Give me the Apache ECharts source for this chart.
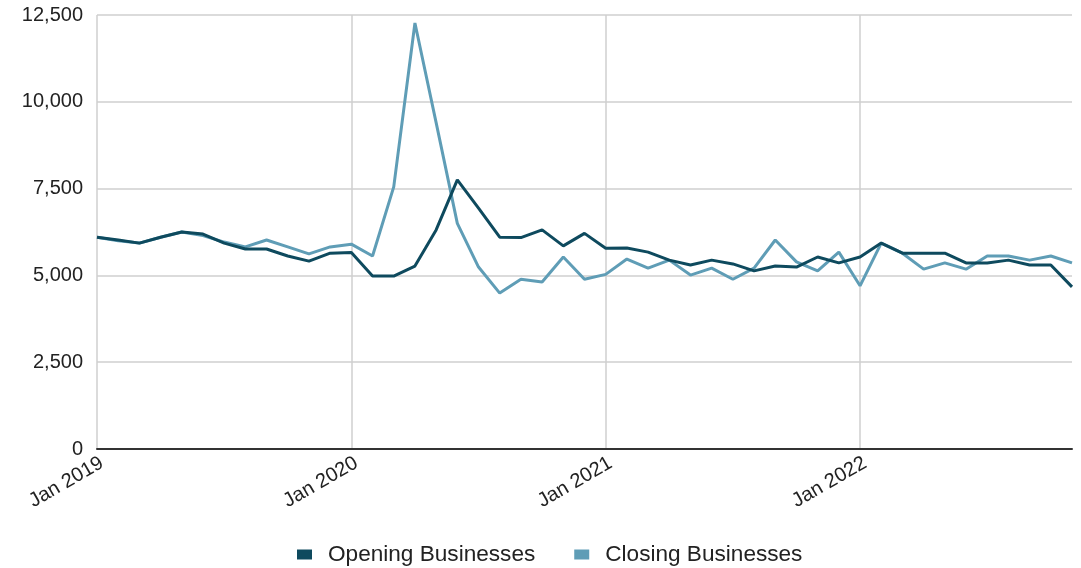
<!DOCTYPE html>
<html>
<head>
<meta charset="utf-8">
<title>Opening and Closing Businesses</title>
<script src="https://cdn.jsdelivr.net/npm/echarts@6/dist/echarts.min.js"></script>
<style>
  html, body { margin: 0; padding: 0; background: #ffffff; }
  #chart { width: 1081px; height: 568px; }
</style>
</head>
<body>
<div id="chart"></div>
<script>
// Monthly series, Jan 2019 through Nov 2022
const monthNames = ['Jan', 'Feb', 'Mar', 'Apr', 'May', 'Jun', 'Jul', 'Aug', 'Sep', 'Oct', 'Nov', 'Dec'];
const years = [2019, 2020, 2021, 2022];
const months = [];
years.forEach(function (y) {
  monthNames.forEach(function (m) { months.push(m + ' ' + y); });
});
months.length = 47;

const openingBusinesses = [
  6100, 6020, 5930, 6100, 6250, 6190, 5930, 5760, 5760, 5560, 5410, 5640,
  5660, 4980, 4980, 5270, 6310, 7750, 6940, 6100, 6090, 6310, 5850, 6210,
  5780, 5790, 5670, 5440, 5300, 5440, 5330, 5130, 5270, 5240, 5530, 5360,
  5530, 5930, 5640, 5640, 5640, 5360, 5360, 5440, 5300, 5300, 4670
];

const closingBusinesses = [
  6100, 6000, 5930, 6100, 6250, 6150, 5960, 5820, 6020, 5820, 5620, 5820,
  5900, 5560, 7550, 12270, 9400, 6500, 5240, 4490, 4890, 4810, 5530, 4890,
  5030, 5470, 5210, 5440, 5010, 5210, 4890, 5210, 6020, 5390, 5130, 5670,
  4700, 5930, 5640, 5180, 5360, 5180, 5560, 5560, 5440, 5560, 5360
];

const yTicks = { min: 0, max: 12500, step: 2500 };

const chart = echarts.init(document.getElementById('chart'), null, { renderer: 'canvas' });
const fontFamily = '"Liberation Sans", Arial, sans-serif';
const yearStart = function (idx) { return idx % 12 === 0; };

chart.setOption({
  animation: false,
  backgroundColor: '#ffffff',
  textStyle: { fontFamily: fontFamily },
  grid: { left: 97, right: 9, top: 15, bottom: 119, containLabel: false },
  legend: {
    data: ['Opening Businesses', 'Closing Businesses'],
    top: 538,
    left: 292,
    icon: 'rect',
    itemWidth: 15,
    itemHeight: 10,
    itemGap: 39,
    textStyle: { fontSize: 22.6, color: '#222', fontFamily: fontFamily, padding: [0, 0, 0, 11] }
  },
  xAxis: {
    type: 'category',
    data: months,
    boundaryGap: false,
    axisLine: { show: true, lineStyle: { color: '#333', width: 2 } },
    axisTick: { show: false },
    axisLabel: {
      interval: yearStart,
      rotate: 30,
      fontSize: 20,
      color: '#222',
      margin: 4,
      verticalAlign: 'top',
      fontFamily: fontFamily
    },
    splitLine: { show: true, interval: yearStart, lineStyle: { color: '#cfcfcf', width: 1.5 } }
  },
  yAxis: {
    type: 'value',
    min: yTicks.min,
    max: yTicks.max,
    interval: yTicks.step,
    axisLine: { show: false },
    axisTick: { show: false },
    axisLabel: {
      fontSize: 20,
      color: '#222',
      margin: 14,
      fontFamily: fontFamily,
      formatter: function (v) { return v.toLocaleString('en-US'); }
    },
    splitLine: { show: true, lineStyle: { color: '#cfcfcf', width: 1.5 } }
  },
  series: [
    {
      name: 'Opening Businesses',
      type: 'line',
      data: openingBusinesses,
      showSymbol: false,
      symbol: 'none',
      lineStyle: { color: '#0e4a5e', width: 3 },
      itemStyle: { color: '#0e4a5e' },
      z: 3
    },
    {
      name: 'Closing Businesses',
      type: 'line',
      data: closingBusinesses,
      showSymbol: false,
      symbol: 'none',
      lineStyle: { color: '#5f9db6', width: 3 },
      itemStyle: { color: '#5f9db6' },
      z: 2
    }
  ]
});
</script>
</body>
</html>
